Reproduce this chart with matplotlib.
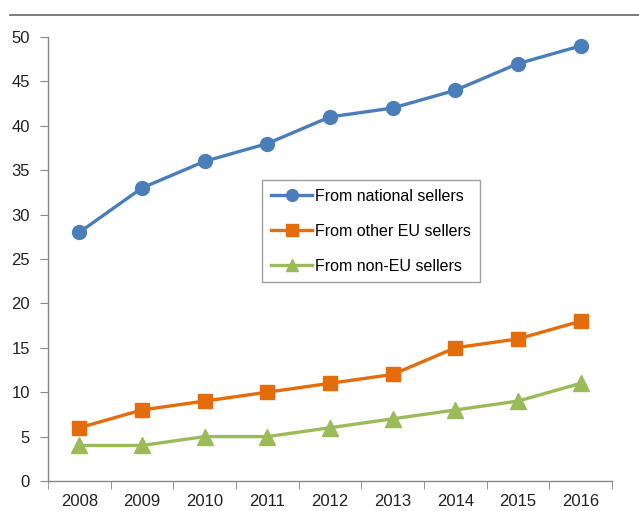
import numpy as np
import matplotlib.pyplot as plt
from matplotlib.lines import Line2D

years = ['2008', '2009', '2010', '2011', '2012', '2013', '2014', '2015', '2016']
national = [28, 33, 36, 38, 41, 42, 44, 47, 49]
other_eu = [6, 8, 9, 10, 11, 12, 15, 16, 18]
non_eu = [4, 4, 5, 5, 6, 7, 8, 9, 11]

plt.rcParams['font.family'] = ['Liberation Sans', 'DejaVu Sans']

fig = plt.figure(figsize=(6.39, 5.11), dpi=100)
ax = fig.add_axes([0.0751, 0.0587, 0.8826, 0.8689])

x = np.arange(len(years))
ax.plot(x, national, color='#4A7EBB', lw=2.4, marker='o', ms=10, label='From national sellers')
ax.plot(x, other_eu, color='#E46C0A', lw=2.4, marker='s', ms=10, label='From other EU sellers')
ax.plot(x, non_eu, color='#9BBB59', lw=2.4, marker='^', ms=11, label='From non-EU sellers')

ax.set_xlim(-0.5, len(years) - 0.5)
ax.set_ylim(0, 50)
ax.set_yticks(range(0, 51, 5))
ax.set_xticks(x)
ax.set_xticklabels(years)
ax.set_xticks(np.arange(-0.5, len(years)), minor=True)
ax.tick_params(axis='x', which='major', length=0, pad=9, labelsize=12, colors='#222222')
ax.tick_params(axis='x', which='minor', length=6, color='#888888', direction='out')
ax.tick_params(axis='y', length=6, color='#888888', pad=7, labelsize=12, labelcolor='#222222')

for s in ['top', 'right']:
    ax.spines[s].set_visible(False)
for s in ['left', 'bottom']:
    ax.spines[s].set_color('#888888')
    ax.spines[s].set_linewidth(1)

leg = ax.legend(loc='upper left', bbox_to_anchor=(0.410, 0.648), bbox_transform=fig.transFigure,
                frameon=True, fancybox=False, fontsize=11.5, handlelength=2.6,
                labelspacing=1.25, borderpad=0.55, handletextpad=0.2, borderaxespad=0,
                markerscale=0.85)
leg.get_frame().set_edgecolor('#888888')
leg.get_frame().set_linewidth(1)

fig.add_artist(Line2D([0.016, 1.0], [0.971, 0.971], transform=fig.transFigure, color='#666666', lw=1.2))

fig.savefig('out.png', dpi=100)
